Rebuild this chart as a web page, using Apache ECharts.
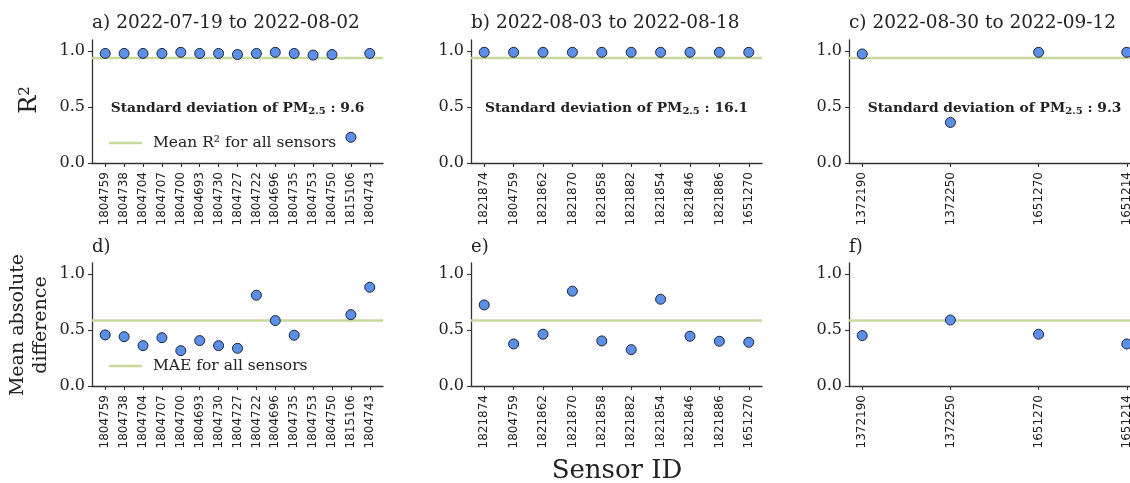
<!DOCTYPE html>
<html>
<head>
<meta charset="utf-8">
<title>R2 and MAE per sensor</title>
<script src="https://cdn.jsdelivr.net/npm/echarts@6.0.0/dist/echarts.min.js"></script>
<style>
  html, body { margin: 0; padding: 0; background: #fff; }
  #chart { width: 1130px; height: 483px; }
</style>
</head>
<body>
<div id="chart"></div>
<script>
// --- data ---
const sensorsA = ['1804759', '1804738', '1804704', '1804707', '1804700', '1804693', '1804730', '1804727',
  '1804722', '1804696', '1804735', '1804753', '1804750', '1815106', '1804743'];
const r2A = [0.98, 0.98, 0.98, 0.98, 0.99, 0.98, 0.98, 0.97, 0.98, 0.99, 0.98, 0.965, 0.97, 0.23, 0.98];
const maeA = [0.457, 0.441, 0.361, 0.432, 0.316, 0.406, 0.361, 0.337, 0.812, 0.585, 0.454, null, null, 0.638, 0.883];

const sensorsB = ['1821874', '1804759', '1821862', '1821870', '1821858', '1821882', '1821854', '1821846',
  '1821886', '1651270'];
const r2B = [0.99, 0.99, 0.99, 0.99, 0.99, 0.99, 0.99, 0.99, 0.99, 0.99];
const maeB = [0.725, 0.376, 0.463, 0.848, 0.403, 0.325, 0.776, 0.445, 0.40, 0.391];

const sensorsC = ['1372190', '1372250', '1651270', '1651214'];
const r2C = [0.975, 0.363, 0.99, 0.99];
const maeC = [0.451, 0.59, 0.463, 0.376];

const periods = ['2022-07-19 to 2022-08-02', '2022-08-03 to 2022-08-18', '2022-08-30 to 2022-09-12'];
const pmStd = ['9.6', '16.1', '9.3'];
const meanR2 = 0.94;
const meanMae = 0.585;
const yTicks = [0, 0.5, 1.0];

// --- layout / styles ---
const SERIF = 'DejaVu Serif';
const SANS = 'DejaVu Sans';
const INK = '#222';
const POINT = '#5b8fe8';
const MEAN_LINE = '#c8d99e';
const gridLefts = [92, 471, 849];
const gridW = 291;
const rowTops = [40, 263];
const gridH = 123;

const panels = [
  { ids: sensorsA, r2: r2A, mae: maeA },
  { ids: sensorsB, r2: r2B, mae: maeB },
  { ids: sensorsC, r2: r2C, mae: maeC }
];

const grid = [], xAxis = [], yAxis = [], series = [], graphic = [];

// idx = row * 3 + col, so grids/axes are stored by index
function addPanel(col, row, ids, values, mean, meanName) {
  const idx = row * 3 + col;
  const n = ids.length;
  const pad = 0.05 * (n - 1);
  const xMin = -pad, xMax = n - 1 + pad;
  const idxs = ids.map((_, i) => i);

  // the last column runs past the right edge of the picture, as in the original
  grid[idx] = {
    left: gridLefts[col], top: rowTops[row], width: gridW, height: gridH,
    outerBoundsMode: 'none', containLabel: false
  };
  xAxis[idx] = {
    gridIndex: idx, type: 'value', min: xMin, max: xMax,
    axisLine: { onZero: false, lineStyle: { color: '#333', width: 1.3 } },
    axisTick: { customValues: idxs, length: 4, lineStyle: { color: '#333', width: 1.1 } },
    axisLabel: {
      customValues: idxs, rotate: 90, margin: 9,
      fontFamily: SANS, fontSize: 12, color: INK,
      formatter: v => ids[Math.round(v)]
    },
    splitLine: { show: false }
  };
  yAxis[idx] = {
    gridIndex: idx, type: 'value', min: 0, max: 1.1,
    axisLine: { show: true, onZero: false, lineStyle: { color: '#333', width: 1.3 } },
    axisTick: { show: true, customValues: yTicks, length: 4, lineStyle: { color: '#333', width: 1.1 } },
    axisLabel: {
      customValues: yTicks, margin: 7,
      fontFamily: SERIF, fontSize: 16, color: INK,
      formatter: v => v.toFixed(1)
    },
    splitLine: { show: false }
  };

  // horizontal mean line across the whole panel
  series.push({
    name: meanName, type: 'line', xAxisIndex: idx, yAxisIndex: idx,
    data: [[xMin, mean], [xMax, mean]],
    symbol: 'none', silent: true, z: 1,
    itemStyle: { color: MEAN_LINE },
    lineStyle: { color: MEAN_LINE, width: 2.5 }
  });
  series.push({
    name: 'points_' + idx, type: 'scatter', xAxisIndex: idx, yAxisIndex: idx, z: 3,
    data: values.map((v, i) => (v == null ? null : [i, v])).filter(d => d),
    symbol: 'circle', symbolSize: 10, clip: false,
    itemStyle: { color: POINT, borderColor: '#1d2536', borderWidth: 1, opacity: 1 }
  });
}

panels.forEach((p, col) => {
  addPanel(col, 0, p.ids, p.r2, meanR2, col === 0 ? 'Mean R² for all sensors' : 'meanR2_' + col);
  addPanel(col, 1, p.ids, p.mae, meanMae, col === 0 ? 'MAE for all sensors' : 'meanMae_' + col);

  // panel titles
  graphic.push({
    type: 'text', x: gridLefts[col], y: 23,
    style: {
      text: 'abc'[col] + ') ' + periods[col], fill: INK,
      font: '18.5px "' + SERIF + '"', textAlign: 'left', textVerticalAlign: 'middle'
    }
  });
  graphic.push({
    type: 'text', x: gridLefts[col], y: 247,
    style: {
      text: 'def'[col] + ')', fill: INK,
      font: '18px "' + SERIF + '"', textAlign: 'left', textVerticalAlign: 'middle'
    }
  });
  // std annotation in the R2 panels
  graphic.push({
    type: 'text', x: gridLefts[col] + gridW / 2, y: 108,
    style: {
      text: '{b|Standard deviation of PM}{s|2.5}{b| : ' + pmStd[col] + '}',
      textAlign: 'center', textVerticalAlign: 'middle',
      rich: {
        b: { fontFamily: SERIF, fontWeight: 'bold', fontSize: 13.8, fill: INK, lineHeight: 19 },
        s: { fontFamily: SERIF, fontWeight: 'bold', fontSize: 10, fill: INK, lineHeight: 19, padding: [6, 0, 0, 0] }
      }
    }
  });
});

// axis titles
graphic.push({
  type: 'text', x: 30, y: 100, rotation: Math.PI / 2,
  style: {
    text: 'R{sup|2}', textAlign: 'center', textVerticalAlign: 'middle',
    font: '24px "' + SERIF + '"', fill: INK,
    rich: { sup: { fontFamily: SERIF, fontSize: 15, fill: INK, padding: [0, 0, 10, 0] } }
  }
});
graphic.push({
  type: 'text', x: 30, y: 325, rotation: Math.PI / 2,
  style: {
    text: 'Mean absolute\ndifference', textAlign: 'center', textVerticalAlign: 'middle',
    font: '19px "' + SERIF + '"', fill: INK, lineHeight: 23
  }
});
graphic.push({
  type: 'text', x: 617, y: 471,
  style: {
    text: 'Sensor ID', textAlign: 'center', textVerticalAlign: 'middle',
    font: '26px "' + SERIF + '"', fill: INK
  }
});

const legendText = { fontFamily: SERIF, fontSize: 15.5, color: INK, padding: [0, 0, 0, 6] };

const option = {
  backgroundColor: '#fff',
  animation: false,
  grid, xAxis, yAxis, series, graphic,
  legend: [
    {
      data: [{ name: 'Mean R² for all sensors', icon: 'rect' }], left: 104, top: 130,
      itemWidth: 33, itemHeight: 2.5, textStyle: legendText, selectedMode: false
    },
    {
      data: [{ name: 'MAE for all sensors', icon: 'rect' }], left: 104, top: 353,
      itemWidth: 33, itemHeight: 2.5, textStyle: legendText, selectedMode: false
    }
  ]
};

const chart = echarts.init(document.getElementById('chart'), null, { renderer: 'canvas' });
chart.setOption(option);
</script>
</body>
</html>
